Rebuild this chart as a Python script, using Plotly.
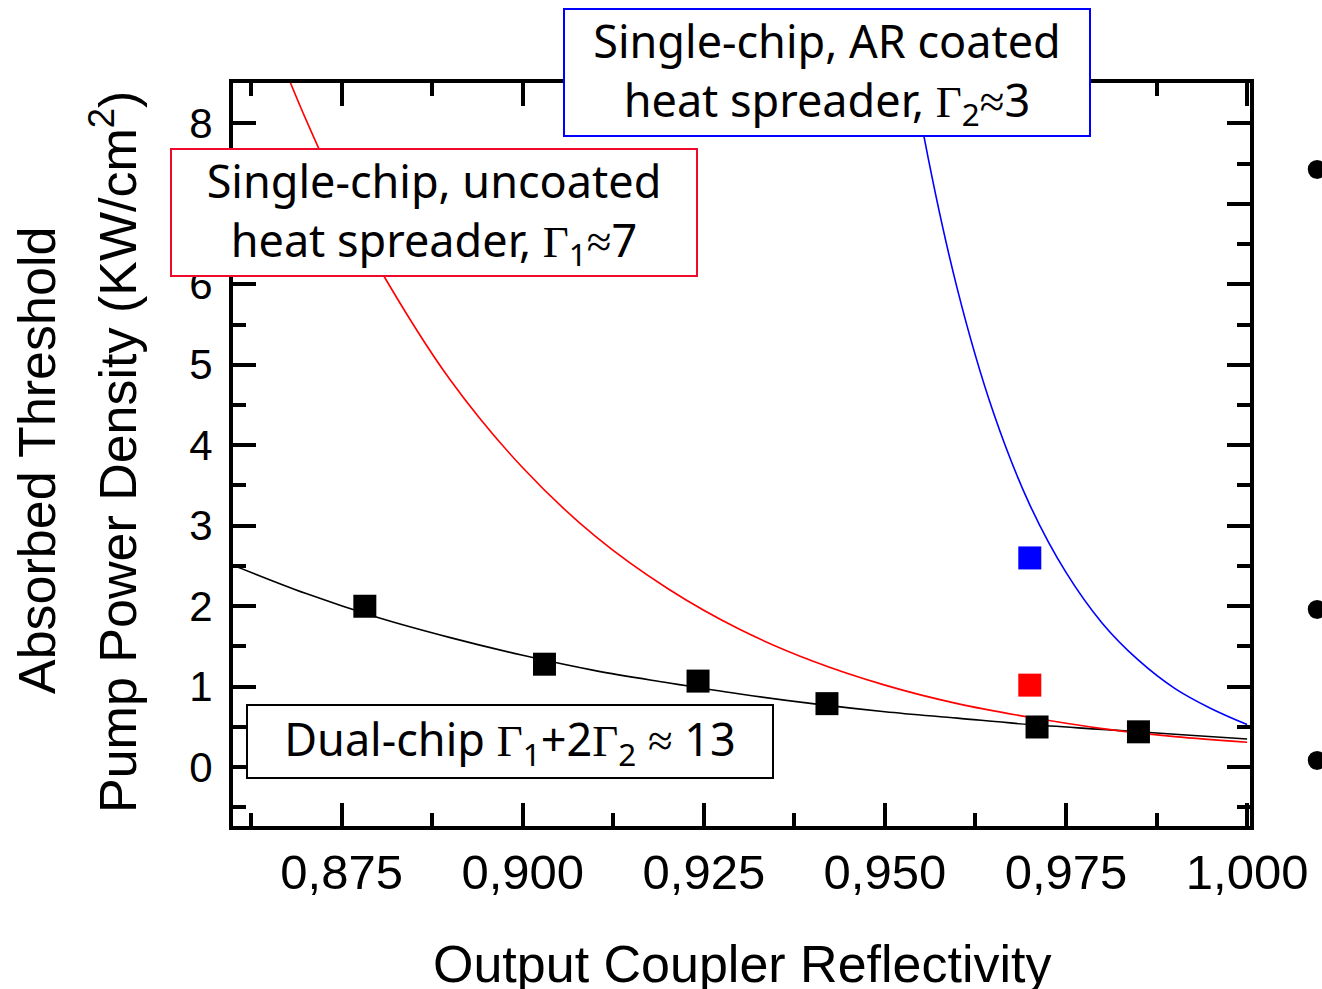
import plotly.graph_objects as go

# ---- data ----
dual_R = [0.8782, 0.9030, 0.9242, 0.9420, 0.9710, 0.9850]
dual_P = [2.00, 1.28, 1.07, 0.79, 0.50, 0.44]

uncoated_R = [0.970]
uncoated_P = [1.02]
arcoated_R = [0.970]
arcoated_P = [2.60]

fit_dual_R = [0.860, 0.870, 0.880, 0.890, 0.900, 0.910, 0.920, 0.930, 0.940,
              0.950, 0.960, 0.970, 0.980, 0.990, 1.000]
fit_dual_P = [2.51, 2.16, 1.86, 1.61, 1.39, 1.20, 1.05, 0.91, 0.79,
              0.69, 0.61, 0.53, 0.47, 0.41, 0.35]

fit_unc_R = [0.866, 0.870, 0.875, 0.880, 0.890, 0.900, 0.910, 0.920, 0.930,
             0.940, 0.950, 0.960, 0.970, 0.980, 0.990, 1.000]
fit_unc_P = [8.93, 8.06, 7.08, 6.23, 4.81, 3.72, 2.87, 2.22, 1.71,
             1.32, 1.02, 0.79, 0.62, 0.48, 0.38, 0.31]

fit_ar_R = [0.950, 0.955, 0.960, 0.965, 0.970, 0.975, 0.980, 0.985, 0.990,
            0.995, 1.000]
fit_ar_P = [10.8, 8.02, 5.94, 4.40, 3.26, 2.42, 1.79, 1.33, 0.98, 0.73, 0.53]

x_title = "Output Coupler Reflectivity"
y_title_1 = "Absorbed Threshold"
y_title_2 = "Pump Power Density (KW/cm<sup>2</sup>)"

G = "<span style=\"font-family:'Liberation Serif'\">&#915;</span>"
label_unc = "Single-chip, uncoated<br>heat spreader, " + G + "<sub>1</sub>&#8776;7"
label_ar = "Single-chip, AR coated<br>heat spreader, " + G + "<sub>2</sub>&#8776;3"
label_dual = "Dual-chip " + G + "<sub>1</sub>+2" + G + "<sub>2</sub> &#8776; 13"

fig = go.Figure()
fig.add_trace(go.Scatter(x=fit_dual_R, y=fit_dual_P, mode="lines",
                         line=dict(color="black", width=1.6, shape="spline"),
                         showlegend=False))
fig.add_trace(go.Scatter(x=fit_unc_R, y=fit_unc_P, mode="lines",
                         line=dict(color="#ff0000", width=1.6, shape="spline"),
                         showlegend=False))
fig.add_trace(go.Scatter(x=fit_ar_R, y=fit_ar_P, mode="lines",
                         line=dict(color="#0000ff", width=1.6, shape="spline"),
                         showlegend=False))
fig.add_trace(go.Scatter(x=dual_R, y=dual_P, mode="markers",
                         marker=dict(symbol="square", size=23, color="black"),
                         showlegend=False))
fig.add_trace(go.Scatter(x=uncoated_R, y=uncoated_P, mode="markers",
                         marker=dict(symbol="square", size=23, color="#ff0000"),
                         showlegend=False))
fig.add_trace(go.Scatter(x=arcoated_R, y=arcoated_P, mode="markers",
                         marker=dict(symbol="square", size=23, color="#0000ff"),
                         showlegend=False))

axis_common = dict(showline=True, linecolor="black", linewidth=4, mirror="ticks",
                   ticks="inside", ticklen=23, tickwidth=3.5, tickcolor="black",
                   showgrid=False, zeroline=False)

fig.update_xaxes(range=[0.86, 1.0004], tick0=0.875, dtick=0.025, tickformat=".3f",
                 tickfont=dict(family="Liberation Sans, Arial", size=49, color="black"),
                 ticklabelstandoff=0,
                 minor=dict(ticks="inside", dtick=0.0125, tick0=0.8625, ticklen=13,
                            tickwidth=3.5, tickcolor="black", showgrid=False),
                 **axis_common)
fig.update_yaxes(range=[-0.73, 8.5], tick0=0, dtick=1,
                 tickfont=dict(family="Liberation Sans, Arial", size=42, color="black"),
                 ticklabelstandoff=8,
                 minor=dict(ticks="inside", dtick=0.5, tick0=0, ticklen=13,
                            tickwidth=3.5, tickcolor="black", showgrid=False),
                 **axis_common)

ann_font = dict(family="Noto Sans", size=45, color="black")
title_font = dict(family="Liberation Sans, Arial", size=52, color="black")
C = dict(xref="paper", yref="paper", xanchor="center", yanchor="middle", showarrow=False)
annotations = [
    dict(text=label_unc, x=0.1976, y=0.8257, font=ann_font, bgcolor="white",
         bordercolor="#ee0a2a", borderwidth=2, borderpad=1, width=522, height=123,
         align="center", **C),
    dict(text=label_ar, x=0.584, y=1.0141, font=ann_font, bgcolor="white",
         bordercolor="#0000ff", borderwidth=2, borderpad=1, width=522, height=123,
         align="center", **C),
    dict(text=label_dual, x=0.2724, y=0.1137, font=ann_font, bgcolor="white",
         bordercolor="black", borderwidth=2, borderpad=1, width=522, height=69,
         align="center", **C),
    dict(text=x_title, x=0.5005, y=-0.1857, font=title_font, **C),
    dict(text=y_title_1, x=-0.1927, y=0.4913, textangle=-90, font=title_font, **C),
    dict(text=y_title_2, x=-0.117, y=0.5034, textangle=-90, font=title_font, **C),
]
for yb in [0.884, 0.292, 0.0888]:
    annotations.append(dict(text="&#8226;", x=1.066, y=yb,
                            font=dict(family="Liberation Sans, Arial", size=70, color="black"),
                            **C))

fig.update_layout(width=1322, height=989, margin=dict(l=233, r=72, t=83, b=163),
                  paper_bgcolor="white", plot_bgcolor="white", separators=",.",
                  annotations=annotations)

fig.write_html("out.html")
